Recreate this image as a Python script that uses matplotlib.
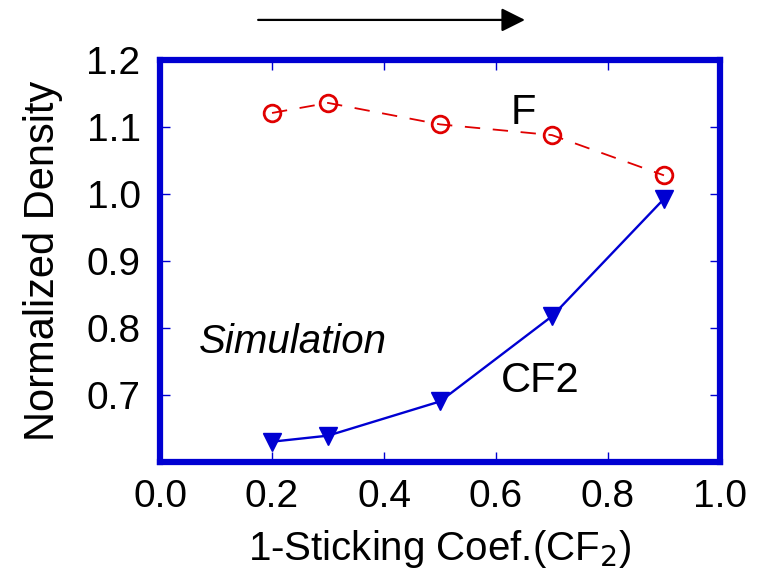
import matplotlib
matplotlib.use("Agg")
import matplotlib.pyplot as plt

plt.rcParams['font.family'] = ['Liberation Sans', 'DejaVu Sans']

x = [0.2, 0.3, 0.5, 0.7, 0.9]
F = [1.121, 1.136, 1.104, 1.088, 1.028]
CF2 = [0.631, 0.640, 0.691, 0.818, 0.993]

xticks = [0.0, 0.2, 0.4, 0.6, 0.8, 1.0]
yticks = [0.7, 0.8, 0.9, 1.0, 1.1, 1.2]

blue = '#0000d2'
red = '#e00000'

fig = plt.figure(figsize=(7.57, 5.69), dpi=100)
ax = fig.add_axes([0.2114, 0.1872, 0.7397, 0.7074])

ax.plot(x, F, color=red, lw=1.3, dashes=(8.5, 7), marker='o', ms=12,
        mfc='none', mec=red, mew=2)
ax.plot(x, CF2, color=blue, lw=1.7, marker='v', ms=13, mfc=blue, mec=blue)

ax.set_xlim(0.0, 1.0)
ax.set_ylim(0.6, 1.2)
ax.set_xticks(xticks)
ax.set_xticklabels([f"{v:.1f}" for v in xticks])
ax.set_yticks(yticks)
ax.set_yticklabels([f"{v:.1f}" for v in yticks])

for s in ax.spines.values():
    s.set_color(blue)
    s.set_linewidth(4.5)

ax.tick_params(axis='both', direction='in', length=7, width=1.0, color=blue,
               top=True, right=True, labelsize=28)
ax.tick_params(axis='x', pad=12)
ax.tick_params(axis='y', pad=14)

ax.set_xlabel("1-Sticking Coef.(CF$_2$)", fontsize=29, labelpad=9)
ax.set_ylabel("Normalized Density", fontsize=30, labelpad=17)

ax.text(0.648, 1.121, "F", fontsize=30, ha='center', va='center')
ax.text(0.679, 0.721, "CF2", fontsize=30, ha='center', va='center')
ax.text(0.07, 0.779, "Simulation", fontsize=29, style='italic',
        ha='left', va='center')

ax.annotate('', xy=(0.6935, 0.965), xytext=(0.341, 0.965),
            xycoords='figure fraction', textcoords='figure fraction',
            arrowprops=dict(arrowstyle='-|>', color='black', lw=1.6,
                            mutation_scale=36, shrinkA=0, shrinkB=0))

fig.savefig("out.png", dpi=100)
